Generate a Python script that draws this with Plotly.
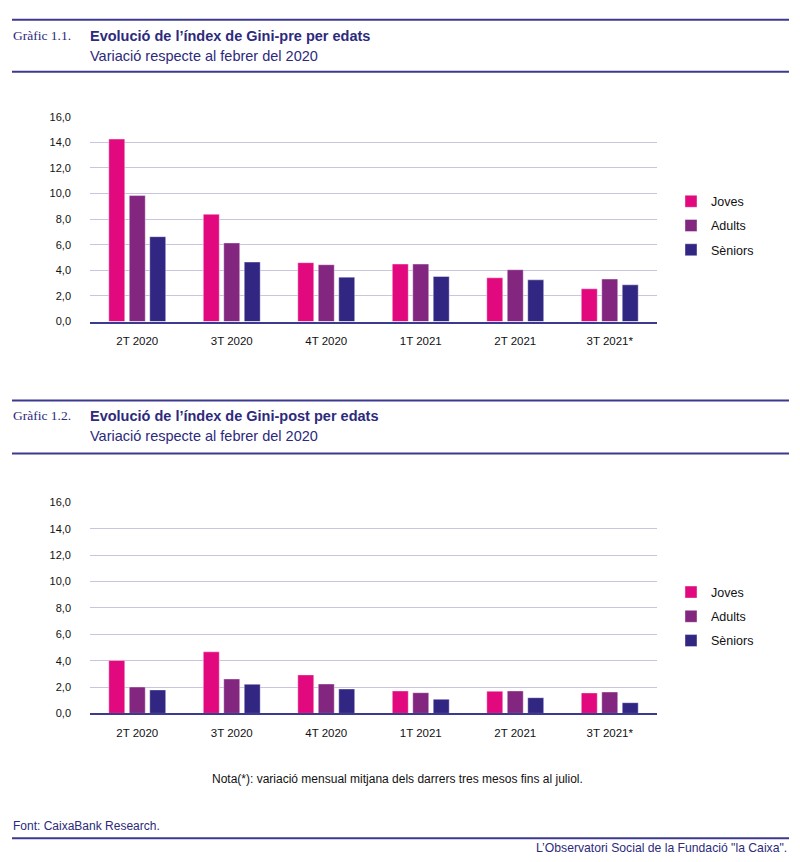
import plotly.graph_objects as go

W, H = 800, 862

quarters = ['2T 2020', '3T 2020', '4T 2020', '1T 2021', '2T 2021', '3T 2021*']
series_names = ['Joves', 'Adults', 'Sèniors']
colors = ['#e2097e', '#83267f', '#312783']

# Gràfic 1.1 - Gini-pre
pre_joves = [14.25, 8.38, 4.60, 4.49, 3.42, 2.56]
pre_adults = [9.84, 6.14, 4.44, 4.49, 4.05, 3.32]
pre_seniors = [6.63, 4.65, 3.47, 3.52, 3.26, 2.87]

# Gràfic 1.2 - Gini-post
post_joves = [4.01, 4.67, 2.92, 1.70, 1.68, 1.55]
post_adults = [2.00, 2.61, 2.23, 1.57, 1.70, 1.62]
post_seniors = [1.78, 2.21, 1.85, 1.07, 1.19, 0.81]

y_ticks = [0, 2, 4, 6, 8, 10, 12, 14, 16]

INK = '#2d2a7c'
LINE = '#3c3a8e'
GRID = '#c9c4e0'
SANS = 'Liberation Sans, Arial, sans-serif'
SERIF = 'Liberation Serif, DejaVu Serif, serif'

# the page comes out slightly squeezed vertically, so pixel rows are pre-corrected
Y_SCALE, Y_OFF = 0.9866, 5.25


def py(y):
    # pixel row in the final picture -> paper coordinate
    return 1 - ((y - Y_OFF) / Y_SCALE) / H


def px(x):
    return x / W


fig = go.Figure()

for vals, name, col in zip([pre_joves, pre_adults, pre_seniors], series_names, colors):
    fig.add_trace(go.Bar(
        x=quarters, y=vals, name=name, marker=dict(color=col, line=dict(color='rgba(255,255,255,0.5)', width=0.8)),
        xaxis='x', yaxis='y', legend='legend', legendgroup='a' + name, hoverinfo='skip'))

for vals, name, col in zip([post_joves, post_adults, post_seniors], series_names, colors):
    fig.add_trace(go.Bar(
        x=quarters, y=vals, name=name, marker=dict(color=col, line=dict(color='rgba(255,255,255,0.5)', width=0.8)),
        xaxis='x2', yaxis='y2', legend='legend2', legendgroup='b' + name, hoverinfo='skip'))

axis_x = dict(showline=True, linecolor=LINE, linewidth=1.5, ticks='', showgrid=False,
              tickfont=dict(family=SANS, size=11.5, color='#111'), ticklabelstandoff=8,
              domain=[px(90), px(657)], fixedrange=True)
axis_y = dict(range=[0, 16], tickvals=y_ticks, tickformat='.1f', showgrid=True, gridcolor=GRID,
              gridwidth=1, zeroline=False, showline=False, ticks='',
              tickfont=dict(family=SANS, size=11, color='#111'), ticklabelstandoff=18, fixedrange=True)

leg = dict(font=dict(family=SANS, size=12.5, color='#111'), bgcolor='rgba(0,0,0,0)',
           xanchor='left', yanchor='top', tracegroupgap=5, itemwidth=30)

fig.update_layout(
    width=W, height=H, margin=dict(l=0, r=0, t=0, b=0),
    paper_bgcolor='white', plot_bgcolor='white',
    separators=',.', barmode='group', bargap=0.35, bargroupgap=0.22,
    xaxis=dict(axis_x, anchor='y'),
    yaxis=dict(axis_y, domain=[py(321), py(116)], anchor='x'),
    xaxis2=dict(axis_x, anchor='y2'),
    yaxis2=dict(axis_y, domain=[py(713), py(502)], anchor='x2'),
    legend=dict(leg, x=px(671), y=py(186)),
    legend2=dict(leg, x=px(671), y=py(577)),
)

shapes = []
for y in [19, 71, 400, 453, 838]:
    shapes.append(dict(type='line', xref='paper', yref='paper', x0=px(12), x1=px(789), y0=py(y), y1=py(y),
                       line=dict(color=LINE, width=2)))
fig.update_layout(shapes=shapes)

ann = []
for top, num, title in [(35, 'Gràfic 1.1.', 'Evolució de l’índex de Gini-pre per edats'),
                        (415, 'Gràfic 1.2.', 'Evolució de l’índex de Gini-post per edats')]:
    ann.append(dict(text=num, x=px(11), y=py(top), xanchor='left', yanchor='middle',
                    font=dict(family=SERIF, size=13.5, color=INK)))
    ann.append(dict(text='<b>' + title + '</b>', x=px(88), y=py(top), xanchor='left', yanchor='middle',
                    font=dict(family=SANS, size=14.5, color=INK)))
    ann.append(dict(text='Variació respecte al febrer del 2020', x=px(88), y=py(top + 20), xanchor='left',
                    yanchor='middle', font=dict(family=SANS, size=14.5, color=INK)))

ann.append(dict(text='Nota(*): variació mensual mitjana dels darrers tres mesos fins al juliol.',
                x=px(397), y=py(779), xanchor='center', yanchor='middle',
                font=dict(family=SANS, size=12, color='#111')))
ann.append(dict(text='Font: CaixaBank Research.', x=px(11), y=py(826), xanchor='left', yanchor='middle',
                font=dict(family=SANS, size=12, color=INK)))
ann.append(dict(text='L’Observatori Social de la Fundació "la Caixa".', x=px(789), y=py(848),
                xanchor='right', yanchor='middle', font=dict(family=SANS, size=12.2, color=INK)))

for a in ann:
    a.update(xref='paper', yref='paper', showarrow=False)
fig.update_layout(annotations=ann)

# page body has a default 8px margin; drop it so the figure sits at the window origin
fig.write_html('out.html', config={'displayModeBar': False},
               post_script="document.body.style.margin='0';")
